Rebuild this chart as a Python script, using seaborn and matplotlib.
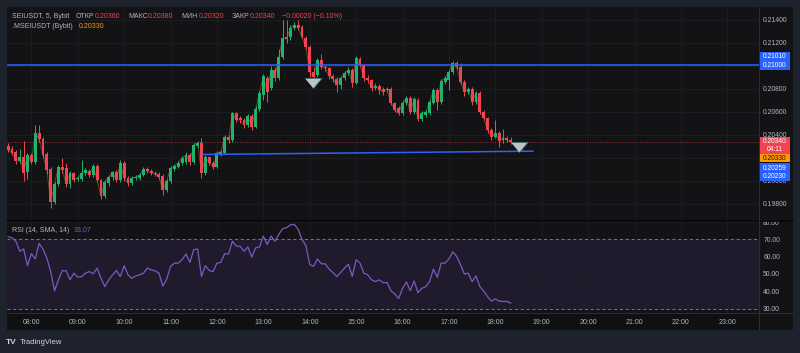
import numpy as np
import pandas as pd
import matplotlib
matplotlib.use("Agg")
import matplotlib.pyplot as plt
import seaborn as sns
from matplotlib.patches import Rectangle
from matplotlib.lines import Line2D

W, H = 800, 353

# SEIUSDT, 5m, Bybit - candles from 07:30 to 18:20
opens = [
    0.20304, 0.20278, 0.20252, 0.20173, 0.20208, 0.20078, 0.20226, 0.20165, 0.20417, 0.20365,
    0.20235, 0.20104, 0.19817, 0.19973, 0.20121, 0.20113, 0.19973, 0.20069, 0.20017, 0.20017,
    0.20069, 0.20087, 0.20052, 0.20130, 0.20008, 0.19869, 0.19982, 0.20034, 0.20078, 0.20008,
    0.20156, 0.20026, 0.19982, 0.20026, 0.20026, 0.20052, 0.20104, 0.20087, 0.20069, 0.20060,
    0.20043, 0.19921, 0.20000, 0.20104, 0.20121, 0.20156, 0.20165, 0.20226, 0.20165, 0.20304,
    0.20330, 0.20069, 0.20208, 0.20156, 0.20121, 0.20235, 0.20243, 0.20382, 0.20356, 0.20591,
    0.20548, 0.20530, 0.20487, 0.20565, 0.20469, 0.20626, 0.20748, 0.20895, 0.20808, 0.20965,
    0.20895, 0.21078, 0.21252, 0.21252, 0.21330, 0.21357, 0.21339, 0.21243, 0.21165, 0.20948,
    0.20922, 0.21052, 0.20991, 0.20982, 0.20913, 0.20887, 0.20835, 0.20895, 0.20939, 0.20965,
    0.20852, 0.21061, 0.21009, 0.20895, 0.20878, 0.20808, 0.20826, 0.20800, 0.20791, 0.20800,
    0.20678, 0.20635, 0.20591, 0.20678, 0.20721, 0.20600, 0.20704, 0.20539, 0.20574, 0.20591,
    0.20678, 0.20791, 0.20687, 0.20861, 0.20878, 0.20948, 0.21026, 0.20991, 0.20861, 0.20774,
    0.20800, 0.20687, 0.20765, 0.20600, 0.20548, 0.20443, 0.20382, 0.20417, 0.20356, 0.20374,
    0.20360,
]
highs = [
    0.20330, 0.20300, 0.20270, 0.20278, 0.20347, 0.20240, 0.20240, 0.20487, 0.20487, 0.20380,
    0.20250, 0.20120, 0.19990, 0.20140, 0.20200, 0.20160, 0.20090, 0.20080, 0.20040, 0.20180,
    0.20110, 0.20100, 0.20150, 0.20150, 0.20020, 0.20010, 0.20050, 0.20090, 0.20095, 0.20180,
    0.20170, 0.20040, 0.20040, 0.20050, 0.20070, 0.20120, 0.20120, 0.20100, 0.20085, 0.20075,
    0.20060, 0.20020, 0.20130, 0.20145, 0.20175, 0.20220, 0.20250, 0.20240, 0.20330, 0.20350,
    0.20374, 0.20225, 0.20220, 0.20170, 0.20260, 0.20270, 0.20400, 0.20400, 0.20600, 0.20600,
    0.20565, 0.20550, 0.20580, 0.20580, 0.20650, 0.20780, 0.20930, 0.20910, 0.21000, 0.20990,
    0.21150, 0.21400, 0.21400, 0.21360, 0.21380, 0.21400, 0.21360, 0.21260, 0.21180, 0.20990,
    0.21070, 0.21100, 0.21010, 0.20995, 0.20930, 0.20900, 0.20910, 0.20960, 0.20990, 0.20980,
    0.21085, 0.21075, 0.21020, 0.20920, 0.20890, 0.20850, 0.20840, 0.20820, 0.20820, 0.20815,
    0.20690, 0.20650, 0.20700, 0.20740, 0.20735, 0.20730, 0.20720, 0.20610, 0.20620, 0.20705,
    0.20810, 0.20805, 0.20885, 0.20915, 0.20965, 0.21045, 0.21040, 0.21030, 0.20880, 0.20820,
    0.20815, 0.20780, 0.20780, 0.20615, 0.20560, 0.20460, 0.20530, 0.20430, 0.20450, 0.20390,
    0.20380,
]
lows = [
    0.20252, 0.20226, 0.20150, 0.20160, 0.20000, 0.20017, 0.20150, 0.20150, 0.20340, 0.20200,
    0.20060, 0.19764, 0.19800, 0.19960, 0.20070, 0.19950, 0.19940, 0.19990, 0.20000, 0.20000,
    0.20050, 0.20030, 0.20030, 0.19990, 0.19840, 0.19850, 0.19960, 0.20010, 0.19990, 0.19990,
    0.20000, 0.19960, 0.19965, 0.20010, 0.20010, 0.20040, 0.20070, 0.20050, 0.20040, 0.20020,
    0.19877, 0.19900, 0.19980, 0.20090, 0.20110, 0.20140, 0.20150, 0.20140, 0.20150, 0.20290,
    0.20026, 0.20050, 0.20140, 0.20100, 0.20110, 0.20220, 0.20230, 0.20330, 0.20340, 0.20510,
    0.20500, 0.20460, 0.20470, 0.20440, 0.20460, 0.20610, 0.20700, 0.20690, 0.20790, 0.20870,
    0.20880, 0.21060, 0.21200, 0.21230, 0.21310, 0.21310, 0.21240, 0.21150, 0.20900, 0.20870,
    0.20900, 0.20970, 0.20960, 0.20890, 0.20860, 0.20774, 0.20800, 0.20880, 0.20920, 0.20820,
    0.20840, 0.20990, 0.20870, 0.20850, 0.20780, 0.20790, 0.20760, 0.20750, 0.20770, 0.20660,
    0.20600, 0.20570, 0.20575, 0.20660, 0.20580, 0.20585, 0.20520, 0.20525, 0.20560, 0.20575,
    0.20665, 0.20617, 0.20670, 0.20845, 0.20790, 0.20930, 0.20975, 0.20840, 0.20740, 0.20760,
    0.20661, 0.20670, 0.20585, 0.20530, 0.20420, 0.20360, 0.20370, 0.20295, 0.20330, 0.20340,
    0.20320,
]
closes = [
    0.20269, 0.20243, 0.20173, 0.20208, 0.20069, 0.20226, 0.20165, 0.20417, 0.20365, 0.20226,
    0.20095, 0.19817, 0.19973, 0.20121, 0.20095, 0.19973, 0.20069, 0.20008, 0.20026, 0.20069,
    0.20095, 0.20052, 0.20130, 0.20008, 0.19869, 0.19991, 0.20034, 0.20078, 0.20008, 0.20156,
    0.20026, 0.19982, 0.20026, 0.20034, 0.20052, 0.20104, 0.20087, 0.20069, 0.20060, 0.20034,
    0.19921, 0.20000, 0.20113, 0.20130, 0.20156, 0.20200, 0.20226, 0.20165, 0.20313, 0.20330,
    0.20069, 0.20208, 0.20156, 0.20121, 0.20243, 0.20252, 0.20382, 0.20356, 0.20591, 0.20530,
    0.20530, 0.20487, 0.20565, 0.20469, 0.20626, 0.20765, 0.20913, 0.20774, 0.20965, 0.20895,
    0.21078, 0.21243, 0.21235, 0.21330, 0.21357, 0.21330, 0.21252, 0.21165, 0.20948, 0.20904,
    0.21052, 0.20991, 0.20982, 0.20913, 0.20887, 0.20835, 0.20895, 0.20939, 0.20965, 0.20852,
    0.21069, 0.21009, 0.20895, 0.20878, 0.20808, 0.20826, 0.20791, 0.20774, 0.20800, 0.20678,
    0.20617, 0.20591, 0.20678, 0.20721, 0.20600, 0.20713, 0.20539, 0.20591, 0.20600, 0.20687,
    0.20791, 0.20687, 0.20869, 0.20895, 0.20948, 0.21026, 0.20991, 0.20861, 0.20774, 0.20800,
    0.20687, 0.20765, 0.20600, 0.20548, 0.20443, 0.20382, 0.20417, 0.20347, 0.20374, 0.20356,
    0.20340,
]
rsi = [
    71.6, 71.0, 69.0, 63.2, 64.5, 54.8, 61.8, 58.7, 67.7, 64.5,
    59.3, 51.4, 40.3, 46.6, 52.0, 51.8, 46.6, 50.5, 48.1, 48.5,
    50.5, 51.4, 50.1, 53.4, 47.5, 42.7, 46.6, 49.5, 52.0, 48.5,
    54.8, 49.5, 47.5, 48.9, 49.5, 50.5, 53.4, 52.4, 51.8, 50.5,
    43.0, 47.0, 54.4, 56.3, 56.3, 58.3, 61.6, 56.7, 64.1, 64.5,
    48.5, 54.8, 52.0, 51.4, 56.3, 56.7, 61.8, 61.6, 69.0, 66.1,
    66.1, 63.2, 65.7, 59.8, 65.1, 65.7, 72.0, 67.1, 72.0, 69.0,
    72.9, 76.3, 76.8, 78.4, 78.8, 75.9, 70.0, 66.5, 55.4, 54.4,
    58.7, 55.9, 55.9, 52.8, 50.9, 48.5, 50.9, 53.4, 55.7, 48.5,
    58.3, 56.3, 50.5, 49.5, 46.6, 45.6, 46.6, 45.0, 45.0, 40.3,
    38.4, 35.8, 41.7, 45.4, 40.3, 46.0, 39.1, 41.7, 42.7, 45.6,
    52.8, 48.1, 56.3, 56.3, 58.7, 62.8, 60.2, 55.4, 49.9, 50.5,
    45.6, 48.9, 42.7, 40.1, 36.8, 34.3, 35.6, 34.3, 34.1, 34.1,
    33.1,
]

hours = ["08:00", "09:00", "10:00", "11:00", "12:00", "13:00", "14:00", "15:00",
         "16:00", "17:00", "18:00", "19:00", "20:00", "21:00", "22:00", "23:00"]
price_ticks = [0.198, 0.200, 0.202, 0.204, 0.206, 0.208, 0.210, 0.212, 0.214]
rsi_ticks = [30, 40, 50, 60, 70, 80]

level_price = 0.21005
trend_idx = [50.4, 135.8]
trend_price = [0.20230, 0.20259]
marker_idx = [78.9, 132.1]
marker_price = [0.20852, 0.20295]
last_price = 0.20340

BG = "#131316"
FRAME = "#1e222d"
GRID = "#1c1e25"
TXT = "#b2b5be"
UP = "#20b36f"
DOWN = "#f04550"
BLUE = "#2962ff"
PURPLE = "#7e57c2"
ORANGE = "#ff9800"

sns.set_theme(style="dark", rc={"axes.facecolor": BG, "figure.facecolor": FRAME,
                                "axes.grid": True, "grid.color": GRID, "grid.linewidth": 0.6})
plt.rcParams["font.family"] = ["Liberation Sans", "DejaVu Sans"]

df = pd.DataFrame({"open": opens, "high": highs, "low": lows, "close": closes, "rsi": rsi})
df["idx"] = np.arange(len(df))
df["up"] = df["close"] >= df["open"]
colors = np.where(df["up"], UP, DOWN)

hour_pos = [12 * int(h[:2]) - 90 for h in hours]   # candle index of each full hour
xlim = (-0.3, 194.2)


def box(x0, y0, x1, y1):
    return [x0 / W, 1 - y1 / H, (x1 - x0) / W, (y1 - y0) / H]


def px(x, y):
    return x / W, 1 - y / H


fig = plt.figure(figsize=(W / 100, H / 100), dpi=100, facecolor=FRAME)
renderer = fig.canvas.get_renderer()

bg = fig.add_axes(box(7, 7, 793, 330))
bg.set_facecolor(BG)
bg.set_xticks([])
bg.set_yticks([])
bg.grid(False)
for s in bg.spines.values():
    s.set_visible(False)

ax = fig.add_axes(box(7, 7, 759, 220))
rax = fig.add_axes(box(7, 221, 759, 313))
tax = fig.add_axes(box(7, 313, 759, 330))
for a in (ax, rax, tax):
    a.set_xlim(*xlim)
    for s in a.spines.values():
        s.set_visible(False)

# ---- price pane ----
ax.set_facecolor(BG)
ax.set_ylim(0.19660, 0.21513)
ax.set_xticks(hour_pos)
ax.set_xticklabels([])
ax.set_yticks(price_ticks)
ax.set_yticklabels([f"{p:.5f}" for p in price_ticks])
ax.yaxis.tick_right()
ax.tick_params(axis="y", length=0, pad=3, labelsize=4.9, labelcolor=TXT)
ax.tick_params(axis="x", length=0)

sns.lineplot(x=df["idx"], y=df["close"], ax=ax, color="#a0762a", alpha=0.55,
             linewidth=0.7, zorder=1)
ax.vlines(df["idx"], df["low"], df["high"], colors=colors, linewidth=0.7, zorder=2)
body = (df["close"] - df["open"]).abs().clip(lower=0.00007)
ax.bar(df["idx"], body, bottom=df[["open", "close"]].min(axis=1), width=0.75,
       color=colors, linewidth=0, zorder=3)

ax.axhline(level_price, color=BLUE, linewidth=1.1, zorder=4)
ax.plot(trend_idx, trend_price, color=BLUE, linewidth=1.1, zorder=4)
ax.axhline(last_price, color=DOWN, linewidth=0.6, linestyle=(0, (1, 2)), alpha=0.8, zorder=1)
tri = [(-1, 0.6), (1, 0.6), (0, -0.6)]
ax.scatter(marker_idx, marker_price, marker=tri, s=150, color="#b9c6c6",
           edgecolor="#3c6e6e", linewidth=0.6, zorder=5)
ax.set_xlabel("")
ax.set_ylabel("")

# ---- RSI pane ----
rax.set_facecolor(BG)
rax.set_ylim(27.4, 80.7)
rax.set_xticks(hour_pos)
rax.set_xticklabels([])
rax.set_yticks(rsi_ticks)
rax.set_yticklabels([f"{v:.2f}" for v in rsi_ticks])
rax.yaxis.tick_right()
rax.tick_params(axis="y", length=0, pad=3, labelsize=4.9, labelcolor=TXT)
rax.tick_params(axis="x", length=0)
rax.axhspan(30, 70, color="#1f1b2c", zorder=0)
for lvl in (30, 70):
    rax.axhline(lvl, color="#787b86", linewidth=0.7, linestyle=(0, (3, 3)), zorder=1)
sns.lineplot(x=df["idx"], y=df["rsi"], ax=rax, color=PURPLE, linewidth=0.9, zorder=3)
rax.set_xlabel("")
rax.set_ylabel("")

# ---- time scale ----
tax.set_facecolor("#101013")
tax.set_ylim(0, 1)
tax.set_xticks([])
tax.set_yticks([])
tax.grid(False)
for pos, lab in zip(hour_pos, hours):
    tax.text(pos, 0.45, lab, ha="center", va="center", fontsize=5, color=TXT)

# separators
fig.add_artist(Line2D([7 / W, 793 / W], [1 - 220.5 / H] * 2, color="#0a0a0c", linewidth=1.3))
fig.add_artist(Line2D([7 / W, 793 / W], [1 - 313 / H] * 2, color="#2a2e39", linewidth=0.7))
fig.add_artist(Line2D([759 / W] * 2, [1 - 7 / H, 1 - 330 / H], color="#2a2e39", linewidth=0.7))


def text_row(x, y, parts, size=5):
    # parts: (text, colour, gap in px after it); each piece starts where the last ended
    for t, c, gap in parts:
        tt = fig.text(*px(x, y), t, color=c, fontsize=size, va="center", ha="left")
        x = tt.get_window_extent(renderer).x1 + gap


# ---- header texts ----
text_row(12, 16, [("SEIUSDT, 5, Bybit", TXT, 6), ("ОТКР", TXT, 0.5), ("0.20360", DOWN, 8),
                  ("МАКС", TXT, 0.5), ("0.20380", DOWN, 8), ("МИН", TXT, 0.5),
                  ("0.20320", DOWN, 8), ("ЗАКР", TXT, 0.5), ("0.20340", DOWN, 6),
                  ("\u22120.00020 (\u22120.10%)", DOWN, 0)])
text_row(12, 27, [(".MSEIUSDT (Bybit)", TXT, 6), ("0.20330", ORANGE, 0)])
text_row(12, 230, [("RSI (14, SMA, 14)", TXT, 4), ("33.07", PURPLE, 0)])

# ---- price scale tags ----
tags = [
    (52, 70, BLUE, [("0.21010", 57), ("0.21000", 65.5)], "white"),
    (137, 154, DOWN, [("0.20340", 141.5), ("04:11", 149.5)], "white"),
    (154, 162, ORANGE, [("0.20330", 158)], "#131316"),
    (163, 181, BLUE, [("0.20259", 168), ("0.20230", 176.5)], "white"),
]
for y0, y1, col, lines, tc in tags:
    fig.add_artist(Rectangle(px(759, y1), 31 / W, (y1 - y0) / H, facecolor=col,
                             edgecolor="none", transform=fig.transFigure))
    for t, y in lines:
        fig.text(*px(774.5, y), t, color=tc, fontsize=4.8, ha="center", va="center")

# ---- logo ----
fig.text(*px(6, 342), "TV", color="#d1d4dc", fontsize=6, fontweight="bold", va="center")
fig.text(*px(20, 342), "TradingView", color="#d1d4dc", fontsize=5.5, va="center")

fig.savefig("out.png", dpi=100, facecolor=FRAME)
